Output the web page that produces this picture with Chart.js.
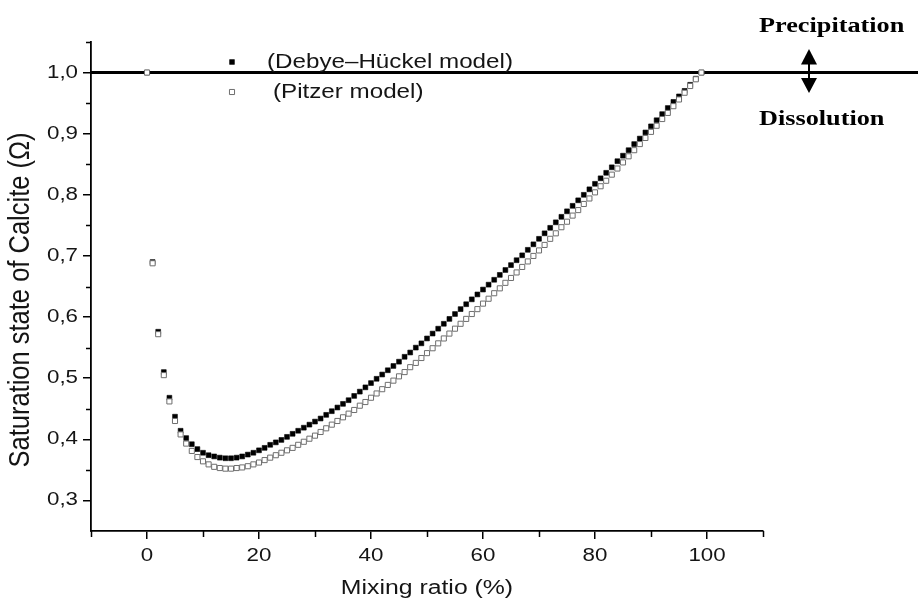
<!DOCTYPE html>
<html>
<head>
<meta charset="utf-8">
<script src="https://cdn.jsdelivr.net/npm/chart.js@4.4.1/dist/chart.umd.min.js"></script>
<style>
  html, body { margin: 0; padding: 0; background: #fff; }
  #wrap { width: 918px; height: 607px; position: relative; }
</style>
</head>
<body>
<div id="wrap"><canvas id="chart" width="918" height="607"></canvas></div>
<script>
// Mixing ratio of the two end-member waters (%)
const mixingRatio = [
  0, 1, 2, 3, 4, 5, 6, 7, 8, 9,
  10, 11, 12, 13, 14, 15, 16, 17, 18, 19,
  20, 21, 22, 23, 24, 25, 26, 27, 28, 29,
  30, 31, 32, 33, 34, 35, 36, 37, 38, 39,
  40, 41, 42, 43, 44, 45, 46, 47, 48, 49,
  50, 51, 52, 53, 54, 55, 56, 57, 58, 59,
  60, 61, 62, 63, 64, 65, 66, 67, 68, 69,
  70, 71, 72, 73, 74, 75, 76, 77, 78, 79,
  80, 81, 82, 83, 84, 85, 86, 87, 88, 89,
  90, 91, 92, 93, 94, 95, 96, 97, 98, 99
];

// Saturation state of calcite, Debye–Hückel activity model
const debyeHuckel = [
  1.000, 0.690, 0.576, 0.510, 0.468, 0.437, 0.414, 0.402, 0.392, 0.384,
  0.378, 0.374, 0.372, 0.370, 0.369, 0.369, 0.370, 0.372, 0.375, 0.378,
  0.382, 0.386, 0.391, 0.395, 0.399, 0.404, 0.409, 0.414, 0.419, 0.424,
  0.429, 0.434, 0.440, 0.446, 0.452, 0.458, 0.464, 0.471, 0.478, 0.485,
  0.492, 0.499, 0.506, 0.513, 0.520, 0.527, 0.535, 0.542, 0.550, 0.557,
  0.565, 0.573, 0.581, 0.589, 0.597, 0.605, 0.613, 0.621, 0.629, 0.637,
  0.645, 0.653, 0.661, 0.669, 0.677, 0.685, 0.693, 0.701, 0.710, 0.719,
  0.728, 0.737, 0.746, 0.755, 0.764, 0.773, 0.782, 0.791, 0.800, 0.809,
  0.818, 0.827, 0.836, 0.845, 0.855, 0.864, 0.873, 0.883, 0.892, 0.902,
  0.912, 0.922, 0.932, 0.942, 0.952, 0.961, 0.970, 0.980, 0.990, 1.000
];

// Saturation state of calcite, Pitzer activity model
const pitzer = [
  1.000, 0.688, 0.572, 0.505, 0.462, 0.430, 0.408, 0.393, 0.381, 0.371,
  0.364, 0.359, 0.355, 0.353, 0.352, 0.352, 0.353, 0.354, 0.356, 0.359,
  0.362, 0.366, 0.370, 0.374, 0.378, 0.382, 0.386, 0.391, 0.396, 0.401,
  0.406, 0.412, 0.418, 0.424, 0.430, 0.436, 0.442, 0.448, 0.455, 0.461,
  0.468, 0.475, 0.482, 0.489, 0.496, 0.503, 0.510, 0.518, 0.525, 0.533,
  0.541, 0.549, 0.557, 0.565, 0.573, 0.581, 0.589, 0.597, 0.605, 0.613,
  0.622, 0.630, 0.639, 0.647, 0.656, 0.664, 0.673, 0.682, 0.691, 0.700,
  0.709, 0.718, 0.728, 0.737, 0.747, 0.756, 0.766, 0.775, 0.785, 0.794,
  0.804, 0.814, 0.823, 0.833, 0.843, 0.853, 0.863, 0.873, 0.883, 0.893,
  0.903, 0.913, 0.924, 0.934, 0.945, 0.956, 0.967, 0.978, 0.989, 1.000
];

// Axis ticks
const xTickValues = [0, 20, 40, 60, 80, 100];
const xMinorTicks = [-10, 10, 30, 50, 70, 90, 110];
const yTickValues = [0.3, 0.4, 0.5, 0.6, 0.7, 0.8, 0.9, 1.0];
const yMinorTicks = [0.35, 0.45, 0.55, 0.65, 0.75, 0.85, 0.95, 1.05];

// Equilibrium level (Ω = 1) separating precipitation from dissolution
const saturationLevel = 1.0;

// Text
const seriesNames = ['(Debye\u2013H\u00fcckel model)', '(Pitzer model)'];
const xTitle = 'Mixing ratio (%)';
const yTitle = 'Saturation state of Calcite (\u03a9)';
const upperLabel = 'Precipitation';
const lowerLabel = 'Dissolution';

const SANS = '"Liberation Sans", Arial, sans-serif';
const SERIF = '"Liberation Serif", "Times New Roman", serif';
const STRETCH = 1.24;
const INK = '#151515';

const dhStyle = { pointStyle: 'rect', radius: 3.4, fill: '#000000', stroke: '#000000', width: 0.6 };
const ptStyle = { pointStyle: 'rect', radius: 3.6, fill: '#ffffff', stroke: '#6e6e6e', width: 1 };

function drawText(ctx, str, x, y, o) {
  ctx.save();
  ctx.font = o.font;
  ctx.fillStyle = o.color || INK;
  ctx.textAlign = o.align || 'left';
  ctx.textBaseline = o.baseline || 'middle';
  ctx.translate(x, y);
  ctx.scale(o.stretch || 1, 1);
  if (o.rotate) ctx.rotate(o.rotate);
  ctx.fillText(str, 0, 0);
  ctx.restore();
}

function drawSquare(ctx, x, y, side, fill, stroke, lw) {
  ctx.save();
  ctx.fillStyle = fill;
  ctx.strokeStyle = stroke;
  ctx.lineWidth = lw;
  ctx.beginPath();
  ctx.rect(x - side / 2, y - side / 2, side, side);
  ctx.fill();
  ctx.stroke();
  ctx.restore();
}

// Reference line at Ω = 1, running from the y axis to the right edge
const levelLine = {
  id: 'levelLine',
  beforeDatasetsDraw(chart) {
    const { ctx, scales: { y }, chartArea } = chart;
    const py = y.getPixelForValue(saturationLevel);
    ctx.save();
    ctx.strokeStyle = '#000';
    ctx.lineWidth = 3;
    ctx.beginPath();
    ctx.moveTo(chartArea.left, py);
    ctx.lineTo(chart.width, py);
    ctx.stroke();
    ctx.restore();
  }
};

// Tick labels, minor ticks, titles, legend and the precipitation/dissolution note
const decorations = {
  id: 'decorations',
  afterDraw(chart) {
    const { ctx, scales: { x, y }, chartArea } = chart;
    const tickFont = '18px ' + SANS;

    // minor ticks
    ctx.save();
    ctx.strokeStyle = '#000';
    ctx.lineWidth = 1.5;
    ctx.beginPath();
    yMinorTicks.forEach(v => {
      const py = Math.round(y.getPixelForValue(v)) + 0.5;
      ctx.moveTo(chartArea.left - 5, py);
      ctx.lineTo(chartArea.left, py);
    });
    xMinorTicks.forEach(v => {
      const px = Math.round(x.getPixelForValue(v)) + 0.5;
      ctx.moveTo(px, chartArea.bottom);
      ctx.lineTo(px, chartArea.bottom + 6);
    });
    ctx.stroke();
    ctx.restore();

    // tick labels
    yTickValues.forEach(v => {
      drawText(ctx, v.toFixed(1).replace('.', ','), chartArea.left - 13, y.getPixelForValue(v),
        { font: tickFont, align: 'right', stretch: STRETCH });
    });
    xTickValues.forEach(v => {
      drawText(ctx, String(v), x.getPixelForValue(v), chartArea.bottom + 25,
        { font: tickFont, align: 'center', stretch: STRETCH });
    });

    // axis titles
    drawText(ctx, xTitle, (chartArea.left + chartArea.right) / 2, 588,
      { font: '20px ' + SANS, align: 'center', stretch: STRETCH });
    drawText(ctx, yTitle, 21, 300,
      { font: '25.5px ' + SANS, align: 'center', stretch: 1.12, rotate: -Math.PI / 2 });

    // legend
    drawSquare(ctx, 232, 62, dhStyle.radius * Math.SQRT2, dhStyle.fill, dhStyle.stroke, dhStyle.width);
    drawSquare(ctx, 232, 92, ptStyle.radius * Math.SQRT2, ptStyle.fill, ptStyle.stroke, ptStyle.width);
    drawText(ctx, seriesNames[0], 267, 63, { font: '19.5px ' + SANS, stretch: STRETCH });
    drawText(ctx, seriesNames[1], 273, 93, { font: '19.5px ' + SANS, stretch: STRETCH });

    // precipitation / dissolution note with double arrow
    const py = y.getPixelForValue(saturationLevel);
    drawText(ctx, upperLabel, 759, py - 46, { font: 'bold 20.5px ' + SERIF, color: '#000', stretch: 1.28 });
    drawText(ctx, lowerLabel, 759, py + 47, { font: 'bold 20.5px ' + SERIF, color: '#000', stretch: 1.28 });
    const ax = 809;
    ctx.save();
    ctx.fillStyle = '#000';
    ctx.strokeStyle = '#000';
    ctx.lineWidth = 2;
    ctx.beginPath();
    ctx.moveTo(ax, py - 12);
    ctx.lineTo(ax, py + 10);
    ctx.stroke();
    ctx.beginPath();
    ctx.moveTo(ax - 8, py - 8);
    ctx.lineTo(ax + 8, py - 8);
    ctx.lineTo(ax, py - 23.5);
    ctx.closePath();
    ctx.fill();
    ctx.beginPath();
    ctx.moveTo(ax - 8, py + 5.5);
    ctx.lineTo(ax + 8, py + 5.5);
    ctx.lineTo(ax, py + 20.5);
    ctx.closePath();
    ctx.fill();
    ctx.restore();
  }
};

const toPoints = vals => mixingRatio.map((m, i) => ({ x: m, y: vals[i] }));

new Chart(document.getElementById('chart'), {
  type: 'scatter',
  data: {
    datasets: [
      {
        label: seriesNames[1],
        data: toPoints(pitzer),
        order: 0,
        pointStyle: ptStyle.pointStyle,
        pointRadius: ptStyle.radius,
        pointBackgroundColor: ptStyle.fill,
        pointBorderColor: ptStyle.stroke,
        pointBorderWidth: ptStyle.width,
        showLine: false
      },
      {
        label: seriesNames[0],
        data: toPoints(debyeHuckel),
        order: 1,
        pointStyle: dhStyle.pointStyle,
        pointRadius: dhStyle.radius,
        pointBackgroundColor: dhStyle.fill,
        pointBorderColor: dhStyle.stroke,
        pointBorderWidth: dhStyle.width,
        showLine: false
      }
    ]
  },
  options: {
    responsive: false,
    animation: false,
    devicePixelRatio: 1,
    layout: { padding: { top: 42, right: 155, left: 0, bottom: 0 } },
    plugins: {
      legend: { display: false },
      tooltip: { enabled: false },
      title: { display: false }
    },
    scales: {
      x: {
        type: 'linear',
        min: -10,
        max: 110,
        afterBuildTicks(scale) { scale.ticks = xTickValues.map(v => ({ value: v })); },
        afterFit(scale) { scale.height = 76; },
        ticks: { display: false },
        grid: { display: true, drawOnChartArea: false, drawTicks: true, tickLength: 8, color: '#000', lineWidth: 1.5 },
        border: { display: true, color: '#000', width: 1.8 }
      },
      y: {
        type: 'linear',
        min: 0.25,
        max: 1.05,
        afterBuildTicks(scale) { scale.ticks = yTickValues.map(v => ({ value: v })); },
        afterFit(scale) { scale.width = 91; },
        ticks: { display: false },
        grid: { display: true, drawOnChartArea: false, drawTicks: true, tickLength: 8, color: '#000', lineWidth: 1.5 },
        border: { display: true, color: '#000', width: 1.8 }
      }
    }
  },
  plugins: [levelLine, decorations]
});
</script>
</body>
</html>
